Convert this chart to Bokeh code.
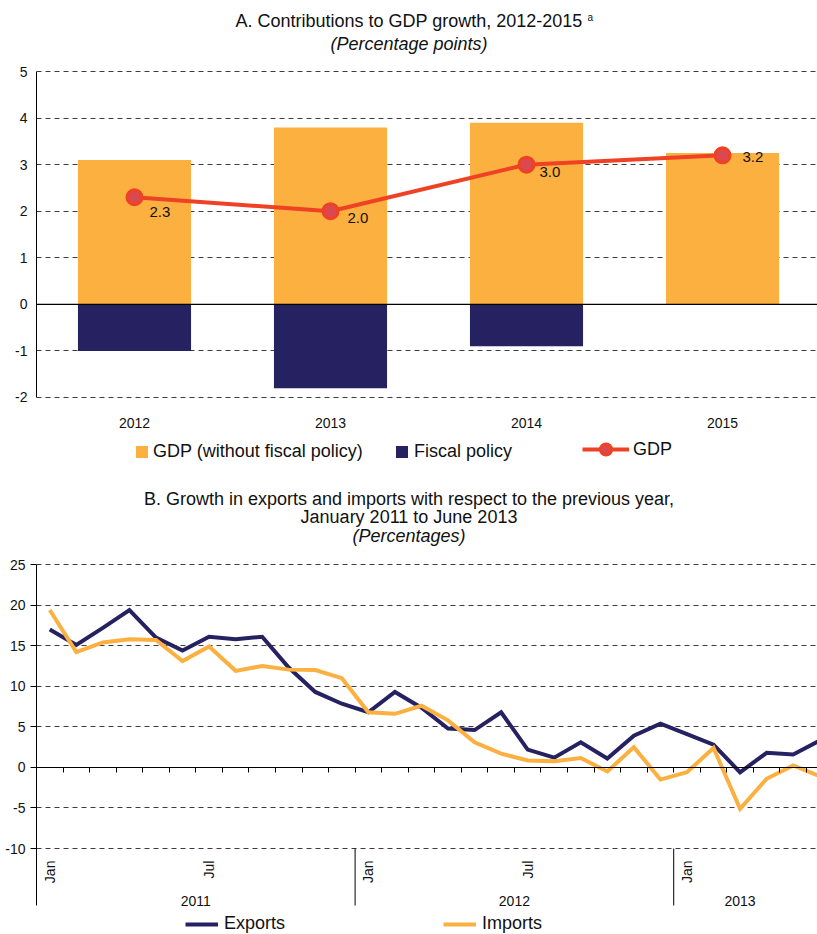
import math
from bokeh.plotting import figure
from bokeh.models import (Range1d, LinearAxis, FixedTicker, Label, Grid,
                          LabelSet, ColumnDataSource, Legend, LegendItem, CustomJSTickFormatter)
from bokeh.layouts import column
from bokeh.embed import file_html
from bokeh.resources import INLINE
from bokeh.core.properties import value

FONT = "Liberation Sans"
NAVY = "#262262"
ORANGE = "#fbb040"
RED = "#ef4123"
TXT = "#111111"
GRID = "#3c3c3c"

# ---------------- Panel A data ----------------
years = ["2012", "2013", "2014", "2015"]
gdp_wo_fiscal = [3.1, 3.8, 3.9, 3.25]
fiscal_policy = [-1.0, -1.8, -0.9, 0.0]
gdp = [2.3, 2.0, 3.0, 3.2]
gdp_labels = ["2.3", "2.0", "3.0", "3.2"]
a_yticks = [-2, -1, 0, 1, 2, 3, 4, 5]

# ---------------- Panel B data ----------------
month_names = ["Jan", "Feb", "Mar", "Apr", "May", "Jun",
               "Jul", "Aug", "Sep", "Oct", "Nov", "Dec"]
b_years = ["2011", "2012", "2013"]
months = [f"{m} {y}" for y in b_years for m in month_names][:30]
exports = [17.0, 15.1, 17.2, 19.4, 16.0, 14.4, 16.1, 15.8, 16.1, 12.3,
           9.3, 7.85, 6.8, 9.3, 7.35, 4.8, 4.6, 6.8, 2.2, 1.2,
           3.1, 1.1, 3.9, 5.4, 4.1, 2.8, -0.6, 1.8, 1.6, 3.3]
imports = [19.4, 14.2, 15.4, 15.8, 15.7, 13.1, 14.9, 11.9, 12.5, 12.05,
           12.0, 11.0, 6.8, 6.6, 7.6, 5.8, 3.1, 1.7, 0.85, 0.75,
           1.15, -0.5, 2.5, -1.5, -0.6, 2.4, -5.1, -1.4, 0.25, -1.1]
b_yticks = [-10, -5, 0, 5, 10, 15, 20, 25]
year_tick_labels = ["2011", "2012", "2013"]
year_tick_pos = [6.0, 18.0, 26.5]

plain = CustomJSTickFormatter(code="return tick.toString();")

def pick(pos, names):
    return CustomJSTickFormatter(args=dict(pos=pos, names=names),
                                 code="const i = pos.indexOf(tick); return i >= 0 ? names[i] : '';")

def make_legend(item, loc, gw, gh, standoff):
    return Legend(items=[item], location=loc, orientation="horizontal", glyph_width=gw,
                  glyph_height=gh, label_standoff=standoff, padding=0, margin=0, spacing=0,
                  border_line_color=None, background_fill_alpha=0,
                  label_text_font=FONT, label_text_font_size="18px", label_text_color=TXT)

W = 817
LEFT = 36
FRAME_W = W - LEFT

# ======================= Panel A =======================
A_H = 470
a_px = 46.571                      # pixels per y unit
a_cat = 196.0                      # pixels per category
a_top = 5 + 71 / a_px
a_bot = -2 - (A_H - 397) / a_px
p1 = figure(width=W, height=A_H, x_range=Range1d(0, FRAME_W / a_cat), y_range=Range1d(a_bot, a_top),
            x_axis_type=None, y_axis_type=None,
            output_backend="svg", toolbar_location=None,
            min_border_left=LEFT, min_border_right=0, min_border_top=0, min_border_bottom=0)
p1.outline_line_color = None

ya = LinearAxis(ticker=FixedTicker(ticks=a_yticks), formatter=plain, bounds=(-2, 5),
                major_tick_out=0, major_tick_in=0, minor_tick_line_color=None,
                axis_line_color="black", major_label_standoff=9,
                major_label_text_font=FONT, major_label_text_font_size="14px",
                major_label_text_color=TXT)
p1.add_layout(ya, "left")
p1.add_layout(Grid(dimension=1, ticker=FixedTicker(ticks=[t for t in a_yticks if t != 0]),
                   grid_line_color=GRID, grid_line_dash="5 4", grid_line_width=1))

a_x = [i + 0.5 for i in range(len(years))]
xa = LinearAxis(fixed_location=-2, ticker=FixedTicker(ticks=a_x), formatter=pick(a_x, years),
                axis_line_color=None, major_tick_line_color=None,
                minor_tick_line_color=None, major_label_standoff=15,
                major_label_text_font=FONT, major_label_text_font_size="14px",
                major_label_text_color=TXT)
p1.add_layout(xa, "below")

src1 = ColumnDataSource(dict(x=a_x, base=gdp_wo_fiscal, fiscal=fiscal_policy, gdp=gdp,
                             lab=gdp_labels, dx=[15, 17, 13, 20], dy=[-15, -7, -7.5, -2]))
r_base = p1.vbar(x="x", top="base", bottom=0, width=0.577, source=src1,
                 fill_color=ORANGE, line_color=None)
r_fis = p1.vbar(x="x", top=0, bottom="fiscal", width=0.577, source=src1,
                fill_color=NAVY, line_color=None)
p1.segment(x0=[0], y0=[0], x1=[FRAME_W / a_cat], y1=[0], line_color="black", line_width=1.3)
r_line = p1.line(x="x", y="gdp", source=src1, line_color=RED, line_width=4)
r_pts = p1.scatter(x="x", y="gdp", source=src1, size=15, marker="circle",
                   fill_color="#d9494f", line_color=RED, line_width=3)
p1.add_layout(LabelSet(x="x", y="gdp", text="lab", source=src1, x_offset="dx", y_offset="dy",
                       text_align="left", text_baseline="middle", text_font=value(FONT),
                       text_font_size=value("15px"), text_color=TXT))

a_cx = (408.5 - LEFT) / a_cat
p1.add_layout(Label(x=a_cx, y=6.095, text="A. Contributions to GDP growth, 2012-2015",
                    text_align="center", text_baseline="middle", text_font=FONT,
                    text_font_size="18px", text_color=TXT))
p1.add_layout(Label(x=(587 - LEFT) / a_cat, y=6.17, text="a", text_align="left", text_baseline="middle",
                    text_font=FONT, text_font_size="10px", text_color=TXT))
p1.add_layout(Label(x=a_cx, y=5.6, text="(Percentage points)", text_align="center",
                    text_baseline="middle", text_font=FONT, text_font_style="italic",
                    text_font_size="18px", text_color=TXT))

p1.add_layout(make_legend(LegendItem(label="GDP (without fiscal policy)", renderers=[r_base]),
                          (98, 8), 15, 15, 4))
p1.add_layout(make_legend(LegendItem(label="Fiscal policy", renderers=[r_fis]),
                          (358, 8), 15, 15, 5))
p1.add_layout(make_legend(LegendItem(label="GDP", renderers=[r_line, r_pts]),
                          (546, 7), 47, 28, 4))

# ======================= Panel B =======================
B_H = 464
b_px = 8.114
b_month = 26.55
b_zero = 766.9 - A_H              # pixel of y=0 inside this figure
b_top = b_zero / b_px
b_bot = -(B_H - b_zero) / b_px
y_low = -17.02                    # lower end of the axis and year separators
p2 = figure(width=W, height=B_H, x_range=Range1d(0, FRAME_W / b_month), y_range=Range1d(b_bot, b_top),
            x_axis_type=None, y_axis_type=None, output_backend="svg", toolbar_location=None,
            min_border_left=LEFT, min_border_right=0, min_border_top=0, min_border_bottom=0)
p2.outline_line_color = None

yb = LinearAxis(ticker=FixedTicker(ticks=b_yticks), formatter=plain, bounds=(y_low, 25),
                major_tick_out=6, major_tick_in=0, major_tick_line_color="black",
                minor_tick_line_color=None, axis_line_color="black", major_label_standoff=5,
                major_label_text_font=FONT, major_label_text_font_size="14px",
                major_label_text_color=TXT)
p2.add_layout(yb, "left")
p2.add_layout(Grid(dimension=1, ticker=FixedTicker(ticks=[t for t in b_yticks if t != 0]),
                   grid_line_color=GRID, grid_line_dash="5 4", grid_line_width=1))

month_x = [i + 0.5 for i in range(len(months))]
month_bounds = [float(i) for i in range(1, len(months))]
year_bounds = [float(i) for i, m in enumerate(months) if m.startswith("Jan") and i > 0]
mt_pos = [i + 0.5 for i, m in enumerate(months) if m.split()[0] in ("Jan", "Jul")]
mt_lab = [m.split()[0] for m in months if m.split()[0] in ("Jan", "Jul")]

blank = CustomJSTickFormatter(code="return '';")
ax0 = LinearAxis(fixed_location=0, ticker=FixedTicker(ticks=month_bounds), formatter=blank,
                 major_tick_in=0, major_tick_out=5, major_tick_line_color="black",
                 minor_tick_line_color=None, axis_line_color="black", axis_line_width=1.2)
p2.add_layout(ax0, "below")

ax_m = LinearAxis(fixed_location=-10, ticker=FixedTicker(ticks=mt_pos), formatter=pick(mt_pos, mt_lab),
                  major_label_orientation=math.pi / 2, axis_line_color=None,
                  major_tick_line_color=None, minor_tick_line_color=None,
                  major_label_standoff=6, major_label_text_font=FONT,
                  major_label_text_font_size="14px", major_label_text_color=TXT)
p2.add_layout(ax_m, "below")

ax_y = LinearAxis(fixed_location=-10, ticker=FixedTicker(ticks=year_tick_pos),
                  formatter=pick(year_tick_pos, year_tick_labels),
                  axis_line_color=None, major_tick_line_color=None, minor_tick_line_color=None,
                  major_label_standoff=41, major_label_text_font=FONT,
                  major_label_text_font_size="14px", major_label_text_color=TXT)
p2.add_layout(ax_y, "below")

p2.segment(x0=year_bounds, y0=[-10] * len(year_bounds), x1=year_bounds,
           y1=[y_low] * len(year_bounds), line_color="black", line_width=1)

src2 = ColumnDataSource(dict(x=month_x, exports=exports, imports=imports))
r_exp = p2.line(x="x", y="exports", source=src2, line_color=NAVY, line_width=4, line_join="miter")
r_imp = p2.line(x="x", y="imports", source=src2, line_color=ORANGE, line_width=4, line_join="miter")

b_cx = (408.5 - LEFT) / b_month
for yv, txt, style in [(33.14, "B. Growth in exports and imports with respect to the previous year,", "normal"),
                       (30.8, "January 2011 to June 2013", "normal"),
                       (28.46, "(Percentages)", "italic")]:
    p2.add_layout(Label(x=b_cx, y=yv, text=txt, text_align="center", text_baseline="middle",
                        text_font=FONT, text_font_style=style, text_font_size="18px",
                        text_color=TXT))

p2.add_layout(make_legend(LegendItem(label="Exports", renderers=[r_exp]), (149, 0), 33, 16, 6))
p2.add_layout(make_legend(LegendItem(label="Imports", renderers=[r_imp]), (407, 0), 33, 16, 6))

layout = column(p1, p2, spacing=0)
open("out.html", "w").write(file_html(layout, INLINE))
